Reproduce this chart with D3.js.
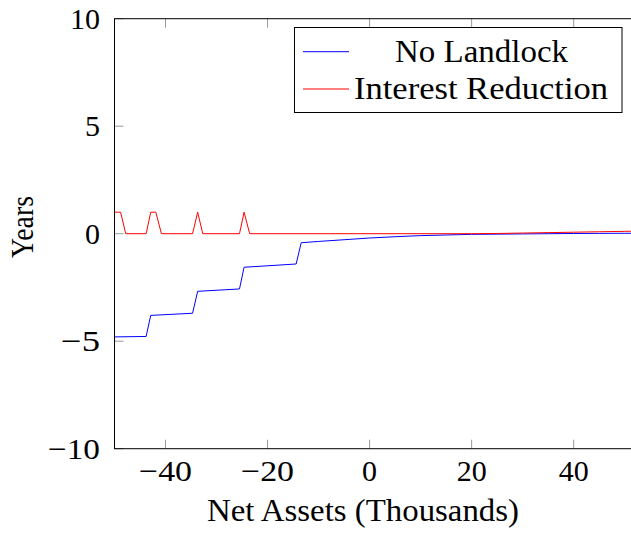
<!DOCTYPE html>
<html><head><meta charset="utf-8">
<script src="https://cdn.jsdelivr.net/npm/d3@7"></script>
<style>body{margin:0;background:#fff}svg{display:block}text{font-family:"Liberation Serif","Times New Roman",serif;fill:#000}</style>
</head><body><svg id="c" width="631" height="533"></svg>
<script>
// Data
const xTicks = [-40, -20, 0, 20, 40];
const yTicks = [-10, -5, 0, 5, 10];
const seriesNames = ["No Landlock", "Interest Reduction"];
const noLandlockX = [-50, -43.8, -42.9, -34.7, -33.7, -25.5, -24.6, -14.4, -13.4, -10, -5, 0, 5, 10, 15, 20, 25, 30, 35, 40, 45, 50, 53];
const noLandlockY = [-4.80, -4.78, -3.80, -3.70, -2.68, -2.57, -1.56, -1.41, -0.42, -0.36, -0.28, -0.20, -0.14, -0.09, -0.06, -0.03, -0.02, -0.01, 0.0, 0.01, 0.015, 0.02, 0.02];
const interestX = [-50, -48.8, -47.8, -43.8, -42.9, -41.9, -40.8, -34.7, -33.7, -32.7, -25.5, -24.6, -23.5, 20, 25, 30, 35, 40, 45, 50, 53];
const interestY = [1, 1, 0, 0, 1, 1, 0, 0, 1, 0, 0, 1, 0, 0, 0.01, 0.03, 0.05, 0.07, 0.09, 0.11, 0.12];

const svg = d3.select("#c");
const L = 114.5, T = 18.7, B = 448.7, R = 640;
const x = d3.scaleLinear().domain([-50, 53]).range([L, R]);
const y = d3.scaleLinear().domain([-10, 10]).range([B, T]);
const FS = 30, LFS = 31;

svg.append("defs").append("clipPath").attr("id","clip").append("rect")
  .attr("x", L).attr("y", T).attr("width", R - L).attr("height", B - T);

// ticks (inside, mirrored)
const tk = 9;
const g = svg.append("g");
const fmt = v => v < 0 ? "\u2212" + Math.abs(v) : String(v);
xTicks.forEach(v => {
  g.append("line").attr("x1", x(v)).attr("x2", x(v)).attr("y1", B).attr("y2", B - tk).attr("stroke", "#999");
  g.append("line").attr("x1", x(v)).attr("x2", x(v)).attr("y1", T).attr("y2", T + tk).attr("stroke", "#999");
  const t = g.append("text").attr("x", x(v)).attr("y", 481).attr("text-anchor", "middle").style("font-size", FS + "px")
    .text(fmt(v));
  if (v < 0) t.attr("textLength", 53).attr("lengthAdjust", "spacingAndGlyphs");
});
yTicks.forEach(v => {
  g.append("line").attr("x1", L).attr("x2", L + tk).attr("y1", y(v)).attr("y2", y(v)).attr("stroke", "#999");
  const t = g.append("text").attr("x", 100).attr("y", y(v) + 10).attr("text-anchor", "end").style("font-size", FS + "px")
    .text(fmt(v));
  if (v < 0) t.attr("textLength", v === -10 ? 52 : 39).attr("lengthAdjust", "spacingAndGlyphs");
});

// lines
const line = d3.line().x(d => x(d[0])).y(d => y(d[1]));
const plot = svg.append("g").attr("clip-path", "url(#clip)");
plot.append("path").datum(noLandlockX.map((v, i) => [v, noLandlockY[i]]))
  .attr("d", line).attr("fill", "none").attr("stroke", "#0000ff").attr("stroke-width", 1);
plot.append("path").datum(interestX.map((v, i) => [v, interestY[i]]))
  .attr("d", line).attr("fill", "none").attr("stroke", "#ff0000").attr("stroke-width", 1);

// frame
svg.append("rect").attr("x", L).attr("y", T).attr("width", R - L).attr("height", B - T)
  .attr("fill", "none").attr("stroke", "#000").attr("stroke-width", 1);

// axis labels
svg.append("text").attr("x", 363).attr("y", 521).attr("text-anchor", "middle").style("font-size", LFS + "px")
  .attr("textLength", 312).attr("lengthAdjust", "spacingAndGlyphs")
  .text("Net Assets (Thousands)");
svg.append("text").attr("transform", "translate(33,227) rotate(-90)").attr("text-anchor", "middle").style("font-size", LFS + "px")
  .attr("textLength", 62).attr("lengthAdjust", "spacingAndGlyphs")
  .text("Years");

// legend
const lg = svg.append("g");
lg.append("rect").attr("x", 294.5).attr("y", 27.5).attr("width", 327.5).attr("height", 85)
  .attr("fill", "#fff").attr("stroke", "#000").attr("stroke-width", 1);
const colors = ["#0000ff", "#ff0000"];
const ly = [51.7, 89];
const lw = [173, 254];
const lx = [481.5, 481];
seriesNames.forEach((n, i) => {
  lg.append("line").attr("x1", 303).attr("x2", 349).attr("y1", ly[i]).attr("y2", ly[i]).attr("stroke", colors[i]);
  lg.append("text").attr("x", lx[i]).attr("y", ly[i] + 10).attr("text-anchor", "middle").style("font-size", LFS + "px")
    .attr("textLength", lw[i]).attr("lengthAdjust", "spacingAndGlyphs").text(n);
});
</script></body></html>
